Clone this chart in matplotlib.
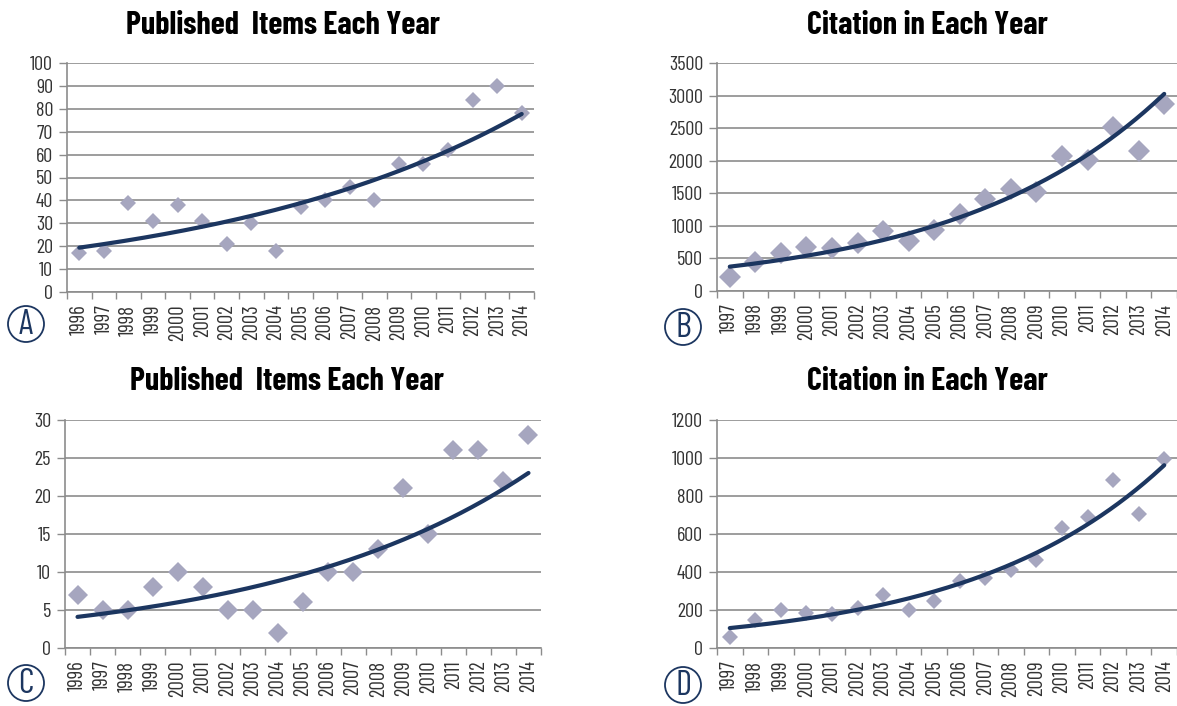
import numpy as np
import matplotlib.pyplot as plt
from matplotlib.patches import Ellipse

W, H = 1177, 706

# ---------------- data ----------------
years_a = list(range(1996, 2015))
items_a = [17, 18, 39, 31, 38, 31, 21, 30, 18, 37, 40, 46, 40, 56, 56, 62, 84, 90, 78]

years_b = list(range(1997, 2015))
cites_b = [215, 440, 580, 670, 660, 740, 915, 760, 940, 1180, 1410, 1565, 1525,
           2080, 2015, 2510, 2150, 2875]

years_c = list(range(1996, 2015))
items_c = [7, 5, 5, 8, 10, 8, 5, 5, 2, 6, 10, 10, 13, 21, 15, 26, 26, 22, 28]

years_d = list(range(1997, 2015))
cites_d = [60, 147, 198, 182, 177, 210, 279, 200, 247, 353, 370, 409, 463,
           633, 688, 882, 703, 993]

FONT = ['Barlow Condensed', 'Liberation Sans Narrow', 'DejaVu Sans']
plt.rcParams['font.family'] = FONT

GRID = '#8c8c8c'
MARK = '#a6a6bf'
NAVY = '#1c3660'
TXT = '#333333'

fig = plt.figure(figsize=(W / 100, H / 100), dpi=100)


def add_ax(left, right, top, bottom):
    return fig.add_axes([left / W, 1 - bottom / H, (right - left) / W, (bottom - top) / H])


def panel(ax, years, vals, ymax, ystep, ms, title, letter, cx, cy, ty, tx):
    n = len(years)
    x = np.arange(n)
    # exponential trendline, fitted like a spreadsheet does
    b, a = np.polyfit(x, np.log(vals), 1)
    xs = np.linspace(0, n - 1, 200)
    ax.plot(x, vals, linestyle='none', marker='D', ms=ms, color=MARK,
            markeredgewidth=0, zorder=3)
    ax.plot(xs, np.exp(a + b * xs), color=NAVY, lw=3, zorder=4,
            solid_capstyle='round')
    ax.set_xlim(-0.5, n - 0.5)
    ax.set_ylim(0, ymax)
    ax.set_yticks(np.arange(0, ymax + 1, ystep))
    ax.set_xticks(x)
    ax.set_xticklabels([str(y) for y in years], rotation=90, fontsize=15, color=TXT)
    ax.set_xticks(np.arange(-0.5, n, 1), minor=True)
    ax.tick_params(axis='x', which='major', length=0, pad=9)
    ax.tick_params(axis='x', which='minor', length=5, color=GRID, width=1)
    ax.tick_params(axis='y', length=6, color=GRID, width=1, labelsize=14.5,
                   labelcolor=TXT, pad=4)
    ax.grid(axis='y', color=GRID, lw=1.2)
    ax.set_axisbelow(True)
    for s in ('top', 'right'):
        ax.spines[s].set_visible(False)
    for s in ('left', 'bottom'):
        ax.spines[s].set_color(GRID)
        ax.spines[s].set_linewidth(1.2)
    fig.text(tx / W, 1 - ty / H, title, ha='center', va='center',
             fontsize=23, fontweight='bold', color='black')
    fig.add_artist(Ellipse((cx / W, 1 - cy / H), 36 / W, 36 / H,
                           transform=fig.transFigure, fill=False,
                           edgecolor=NAVY, lw=1.3))
    fig.text(cx / W, 1 - (cy + 1) / H, letter, ha='center', va='center',
             fontsize=25, color=NAVY)


axA = add_ax(67, 534, 63, 292)
panel(axA, years_a, items_a, 100, 10, 8, 'Published  Items Each Year', 'A',
      26, 324, 25, 283)

axB = add_ax(717, 1177, 63, 291)
panel(axB, years_b, cites_b, 3500, 500, 11, 'Citation in Each Year', 'B',
      683, 327, 25, 927)

axC = add_ax(65, 541, 420, 648)
panel(axC, years_c, items_c, 30, 5, 10, 'Published  Items Each Year', 'C',
      26, 683, 382, 287)

axD = add_ax(717, 1177, 420, 648)
panel(axD, years_d, cites_d, 1200, 200, 8, 'Citation in Each Year', 'D',
      683, 685, 382, 927)

fig.savefig('out.png', dpi=100)
